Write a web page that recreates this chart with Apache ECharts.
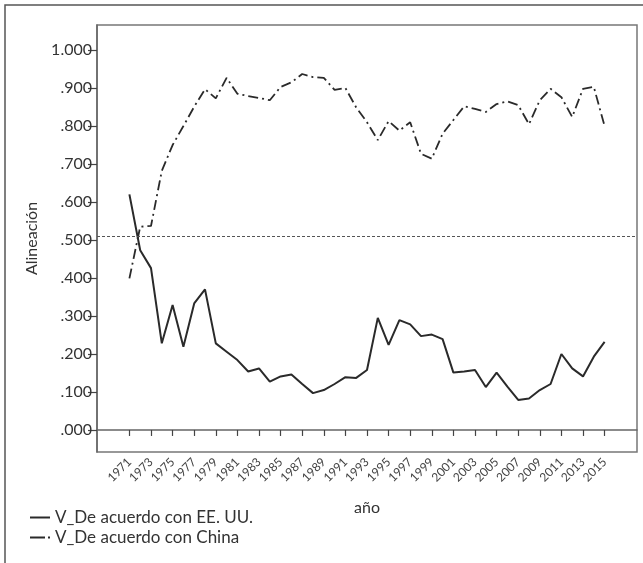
<!DOCTYPE html>
<html>
<head>
<meta charset="utf-8">
<script src="https://cdn.jsdelivr.net/npm/echarts@6/dist/echarts.min.js"></script>
<style>
html,body{margin:0;padding:0;background:#fff;}
#chart{width:643px;height:563px;}
</style>
</head>
<body>
<div id="chart"></div>
<script>
const years = [1971,1972,1973,1974,1975,1976,1977,1978,1979,1980,1981,1982,1983,1984,1985,1986,1987,1988,1989,1990,1991,1992,1993,1994,1995,1996,1997,1998,1999,2000,2001,2002,2003,2004,2005,2006,2007,2008,2009,2010,2011,2012,2013,2014,2015];
const usaValues = [0.620,0.473,0.426,0.228,0.329,0.219,0.333,0.370,0.228,0.206,0.184,0.154,0.162,0.127,0.141,0.146,0.121,0.097,0.105,0.121,0.139,0.137,0.158,0.295,0.224,0.289,0.278,0.247,0.251,0.239,0.151,0.154,0.158,0.113,0.151,0.114,0.079,0.083,0.105,0.121,0.200,0.162,0.141,0.193,0.232];
const chinaValues = [0.399,0.535,0.537,0.682,0.750,0.800,0.851,0.897,0.873,0.927,0.885,0.879,0.874,0.868,0.903,0.915,0.937,0.929,0.927,0.895,0.900,0.849,0.810,0.763,0.813,0.788,0.810,0.727,0.714,0.780,0.816,0.852,0.845,0.837,0.858,0.865,0.855,0.805,0.868,0.898,0.876,0.824,0.898,0.903,0.800];
const referenceValue = 0.514;
const xTickYears = [1971,1973,1975,1977,1979,1981,1983,1985,1987,1989,1991,1993,1995,1997,1999,2001,2003,2005,2007,2009,2011,2013,2015];
const yTicks = [0,0.1,0.2,0.3,0.4,0.5,0.6,0.7,0.8,0.9,1.0];
const seriesNames = ['V_De acuerdo con EE. UU.', 'V_De acuerdo con China'];

const FONT = 'Lato';
const chart = echarts.init(document.getElementById('chart'), null, {renderer: 'canvas'});
const fmtY = v => { const s = v.toFixed(3); return v >= 1 ? s : s.replace(/^0/, ''); };

chart.setOption({
  animation: false,
  backgroundColor: '#fff',
  textStyle: {fontFamily: FONT},
  graphic: [{
    type: 'rect',
    shape: {x: 5, y: 5, width: 650, height: 580},
    style: {fill: 'none', stroke: '#555', lineWidth: 1.5},
    silent: true
  }],
  grid: {left: 97, top: 25, right: 6, bottom: 111, show: true, borderColor: '#777', borderWidth: 1.5, backgroundColor: 'transparent'},
  legend: {
    orient: 'vertical',
    left: 25, top: 504,
    itemWidth: 20, itemHeight: 2, itemGap: 3,
    textStyle: {fontFamily: FONT, fontSize: 17, color: '#333', lineHeight: 17},
    itemStyle: {color: '#2a2a2a', borderWidth: 0},
    data: [
      {name: seriesNames[0], icon: 'path://M0,0H20V2H0Z'},
      {name: seriesNames[1], icon: 'path://M0,0H15V2H0ZM18,0H20V2H18Z'}
    ]
  },
  xAxis: {
    type: 'value',
    min: 1968, max: 2018,
    name: 'año',
    nameLocation: 'middle',
    nameGap: 48,
    nameTextStyle: {fontFamily: FONT, fontSize: 16, color: '#333'},
    axisLine: {show: true, lineStyle: {color: '#666', width: 1.5}},
    axisTick: {show: true, length: 6, customValues: xTickYears, lineStyle: {color: '#444', width: 1.2}},
    axisLabel: {customValues: xTickYears, formatter: v => String(v), rotate: 45, fontSize: 12, color: '#444', margin: 8, fontFamily: FONT},
    splitLine: {show: false}
  },
  yAxis: {
    type: 'value',
    min: -0.058, max: 1.066,
    name: 'Alineación',
    nameLocation: 'middle',
    nameGap: 56,
    nameRotate: 90,
    nameTextStyle: {fontFamily: FONT, fontSize: 16, color: '#333'},
    axisLine: {show: true, lineStyle: {color: '#666', width: 1.5}},
    axisTick: {show: true, length: 9, customValues: yTicks, lineStyle: {color: '#444', width: 1.2}},
    axisLabel: {customValues: yTicks, formatter: fmtY, fontSize: 16, color: '#333', margin: 5, fontFamily: FONT},
    splitLine: {show: false}
  },
  series: [
    {
      name: seriesNames[0],
      type: 'line',
      data: years.map((y, i) => [y, usaValues[i]]),
      symbol: 'none',
      lineStyle: {color: '#2a2a2a', width: 2},
      itemStyle: {color: '#2a2a2a'},
      markLine: {
        silent: true,
        symbol: 'none',
        label: {show: false},
        lineStyle: {type: [3, 2], color: '#555', width: 1},
        data: [{yAxis: referenceValue}]
      }
    },
    {
      name: seriesNames[1],
      type: 'line',
      data: years.map((y, i) => [y, chinaValues[i]]),
      symbol: 'none',
      lineStyle: {color: '#2a2a2a', width: 1.8, type: [10, 4, 2, 4]},
      itemStyle: {color: '#2a2a2a'}
    }
  ]
});
</script>
</body>
</html>
